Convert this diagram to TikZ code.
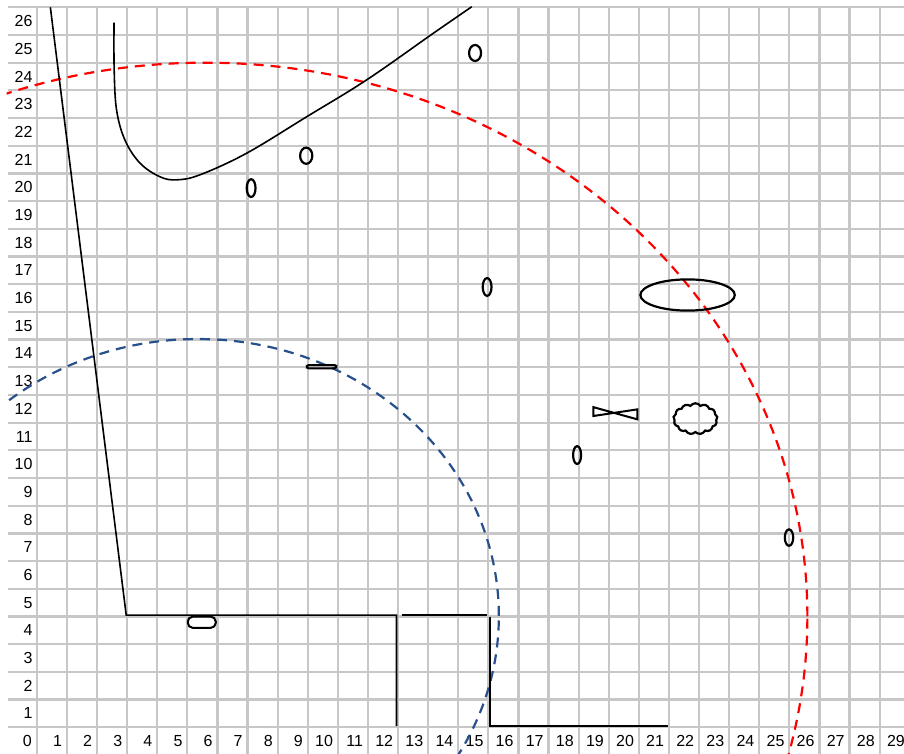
\documentclass[tikz,border=0pt]{standalone}
\usepackage{fontspec}
\setmainfont{Liberation Sans}
\usetikzlibrary{shapes.geometric, shapes.symbols}

\definecolor{ringblue}{RGB}{40,80,140}

\begin{document}
\begin{tikzpicture}[
    x=15.05pt, y=13.845pt,
    font=\fontsize{8}{9.6}\selectfont,
    gridline/.style={draw=black!22, line width=1.1pt},
    tick/.style={anchor=east, inner sep=0pt},
    wall/.style={line width=0.8pt},
    ring/.style={dash pattern=on 5pt off 3.5pt, line width=1.1pt},
    blob/.style={draw, ellipse, line width=1.1pt, inner sep=0pt},
    tab/.style={draw, line width=1pt, inner sep=0pt, rounded corners=2.5pt,
                minimum width=14pt, minimum height=5.6pt},
    bar/.style={draw, line width=1pt, inner sep=0pt, rounded corners=0.85pt,
                minimum width=14.8pt, minimum height=1.7pt},
    puff/.style={draw, cloud, cloud puffs=13, cloud puff arc=110, cloud ignores aspect,
                 line width=1.1pt, inner sep=0pt, minimum width=22pt, minimum height=15.5pt},
]

\useasboundingbox (-0.223,-0.964) rectangle (29.81,26.264);

% ── grid and numbering ───────────────────────────────────────────────────────
\foreach \c in {1,...,29} \draw[gridline] (\c,-0.964) -- (\c,26);
\foreach \r in {0,...,26} \draw[gridline] (0.05,\r) -- (29.81,\r);

\foreach \c in {0,...,29} \node[tick] (col\c) at (\c+0.85,-0.5) {\c};
\foreach \r in {1,...,26} \node[tick] (row\r) at (0.87,\r-0.5) {\r};

% ── dashed rings ─────────────────────────────────────────────────────────────
\begin{scope}
  \clip (0,-0.964) rectangle (29.81,26);
  \draw[ring, red] (6.6,4.0) circle [radius=20];
  \draw[ring, ringblue] (6.35,4.02) circle [radius=10];
\end{scope}

% ── walls ────────────────────────────────────────────────────────────────────
\draw[wall] (1.45,26) -- (3.97,4.05) -- (12.95,4.05) -- (12.95,0.04);
\draw[wall] (13.14,4.05) -- (15.95,4.05);
\draw[wall] (16.06,3.99) -- (16.06,0.04) -- (21.98,0.04);

\node[tab, anchor=north] (lip) at (6.48,4.03) {};

% ── curve ────────────────────────────────────────────────────────────────────
\draw[wall] plot[smooth, tension=0.6] coordinates {
    (3.565,25.45) (3.57,23.74) (3.65,22.29) (3.93,21.2) (4.43,20.37)
    (5.09,19.88) (5.65,19.77) (6.42,19.95) (7.97,20.73) (9.97,22.05)
    (11.96,23.38) (14.17,25.06) (15.45,26.02)};

% ── small shapes ─────────────────────────────────────────────────────────────
\node[blob, minimum width=6pt, minimum height=8pt] (o1) at (15.56,24.35) {};
\node[blob, minimum width=6.1pt, minimum height=8.1pt] (o2) at (9.95,20.64) {};
\node[blob, minimum width=4.4pt, minimum height=8.9pt] (o3) at (8.12,19.47) {};
\node[blob, minimum width=4.4pt, minimum height=8.9pt] (o4) at (15.96,15.9) {};
\node[blob, minimum width=4pt, minimum height=8.9pt] (o5) at (18.95,9.83) {};
\node[blob, minimum width=4.2pt, minimum height=8.2pt] (o6) at (25.99,6.85) {};
\node[blob, minimum width=47.2pt, minimum height=15.6pt] (oval) at (22.62,15.61) {};

\node[bar] (slab) at (10.46,13.02) {};
\node[puff] (cloud) at (22.88,11.14) {};

\draw[line width=1pt] (19.49,11.56) -- (19.49,11.24) -- (20.95,11.48) -- (20.95,11.12) -- cycle;

\end{tikzpicture}
\end{document}
